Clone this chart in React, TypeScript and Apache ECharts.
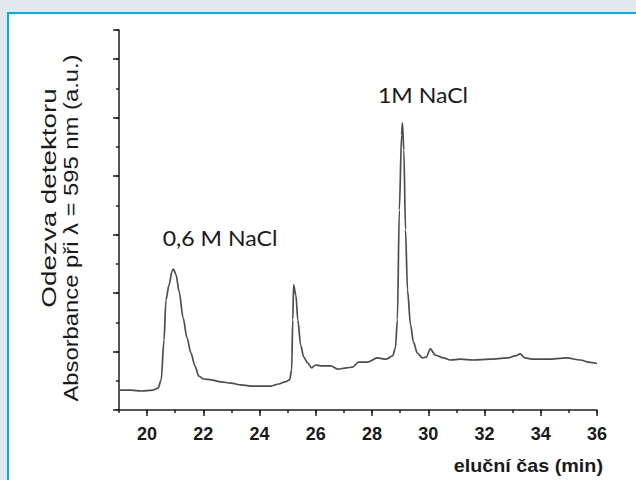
import React, { useEffect, useRef } from "react";
import * as echarts from "echarts";

// elution time (min)
const times: number[] = [
  19.0, 19.43, 19.79, 20.21, 20.39, 20.5, 20.6, 20.67, 20.78, 20.89, 20.94, 21.03, 21.14, 21.28, 21.42, 21.56,
  21.7, 21.84, 22.02, 22.27, 22.63, 22.98, 23.33, 23.69, 24.04, 24.4, 24.68, 24.9, 25.07, 25.14, 25.18, 25.21,
  25.29, 25.36, 25.46, 25.57, 25.71, 25.85, 25.99, 26.17, 26.53, 26.78, 27.09, 27.31, 27.52, 27.84, 28.19, 28.51,
  28.73, 28.83, 28.9, 28.97, 29.05, 29.08, 29.13, 29.19, 29.26, 29.37, 29.47, 29.61, 29.79, 29.93, 30.07, 30.25,
  30.54, 30.78, 31.14, 31.6, 32.2, 32.81, 33.09, 33.27, 33.44, 33.73, 34.23, 34.93, 35.4, 35.75, 36.0,
];
// detector response (a.u.)
const absorbance: number[] = [
  0.68, 0.68, 0.65, 0.68, 0.75, 1.03, 2.39, 3.76, 4.28, 4.76, 4.82, 4.62, 4.04, 3.15, 2.46, 1.95,
  1.51, 1.16, 1.06, 1.03, 0.96, 0.92, 0.86, 0.82, 0.82, 0.82, 0.89, 0.96, 1.03, 1.37, 3.08, 4.28,
  3.93, 3.08, 2.22, 1.81, 1.61, 1.44, 1.54, 1.51, 1.51, 1.4, 1.44, 1.47, 1.64, 1.64, 1.78, 1.74,
  1.85, 2.12, 3.08, 6.84, 9.41, 9.82, 8.89, 6.16, 4.11, 2.91, 2.33, 1.95, 1.78, 1.81, 2.09, 1.88,
  1.78, 1.71, 1.74, 1.71, 1.74, 1.78, 1.85, 1.92, 1.78, 1.74, 1.74, 1.78, 1.71, 1.63, 1.59,
];
const xTickLabels: number[] = [20, 22, 24, 26, 28, 30, 32, 34, 36];
const peakLabels: string[] = ["0,6 M NaCl", "1M NaCl"];
const xAxisTitle = "eluční čas (min)";
const yAxisTitle: string[] = ["Odezva detektoru", "Absorbance při λ = 595 nm (a.u.)"];

export default function App() {
  const ref = useRef<HTMLDivElement>(null);
  useEffect(() => {
    if (!ref.current) return;
    const chart = echarts.init(ref.current, undefined, { renderer: "svg" });
    const data = times.map((t, i) => [t, absorbance[i]]);
    const axisColor = "#1e1e1e";
    const baseAxis = {
      min: 19,
      max: 36,
      type: "value" as const,
    };
    chart.setOption({
      animation: false,
      backgroundColor: "#dfe9ef",
      grid: { left: 119, right: 39, top: 30, bottom: 70 },
      xAxis: [
        {
          ...baseAxis,
          interval: 1,
          axisLine: { show: true, lineStyle: { color: axisColor, width: 1.5 } },
          axisTick: { show: true, length: 3, lineStyle: { color: axisColor, width: 1.5 } },
          axisLabel: { show: false },
          splitLine: { show: false },
        },
        {
          ...baseAxis,
          interval: 1,
          position: "bottom",
          axisLine: { show: false },
          axisTick: { show: true, length: 6, customValues: xTickLabels, lineStyle: { color: axisColor, width: 1.5 } },
          axisLabel: {
            show: true,
            customValues: xTickLabels,
            fontSize: 18,
            fontWeight: "bold",
            fontFamily: "Liberation Sans",
            color: "#1a1a1a",
            margin: 15,
          },
          splitLine: { show: false },
        },
      ],
      yAxis: [
        {
          type: "value",
          min: 0,
          max: 13,
          interval: 1,
          axisLine: { show: true, lineStyle: { color: axisColor, width: 1.5 } },
          axisTick: { show: true, length: 3, lineStyle: { color: axisColor, width: 1.5 } },
          axisLabel: { show: false },
          splitLine: { show: false },
        },
        {
          type: "value",
          min: 0,
          max: 13,
          interval: 2,
          position: "left",
          axisLine: { show: false },
          axisTick: { show: true, length: 6, lineStyle: { color: axisColor, width: 1.5 } },
          axisLabel: { show: false },
          splitLine: { show: false },
        },
      ],
      series: [
        {
          type: "line",
          data,
          showSymbol: false,
          smooth: 0.3,
          smoothMonotone: "x",
          lineStyle: { color: "#4d4d4d", width: 1.7 },
          z: 5,
        },
      ],
      graphic: [
        {
          type: "rect",
          z: -10,
          shape: { x: 8, y: 13, width: 700, height: 600 },
          style: { fill: "#ffffff", stroke: "#00aeef", lineWidth: 2 },
          silent: true,
        },
        {
          type: "text",
          x: 49,
          y: 198,
          rotation: Math.PI / 2,
          scaleX: 1.39,
          style: {
            text: yAxisTitle[0],
            fontSize: 20,
            fontFamily: "Liberation Sans",
            fill: "#1a1a1a",
            align: "center",
            verticalAlign: "middle",
          },
        },
        {
          type: "text",
          x: 71,
          y: 228,
          rotation: Math.PI / 2,
          scaleX: 1.19,
          style: {
            text: yAxisTitle[1],
            fontSize: 20,
            fontFamily: "Liberation Sans",
            fill: "#1a1a1a",
            align: "center",
            verticalAlign: "middle",
          },
        },
        {
          type: "text",
          x: 603,
          y: 465,
          scaleX: 1.04,
          style: {
            text: xAxisTitle,
            fontSize: 19,
            fontWeight: "bold",
            fontFamily: "Liberation Sans",
            fill: "#1a1a1a",
            align: "right",
            verticalAlign: "middle",
          },
        },
        {
          type: "text",
          x: 220,
          y: 238,
          scaleX: 1.1,
          style: {
            text: peakLabels[0],
            fontSize: 21,
            fontFamily: "Lato",
            fill: "#1a1a1a",
            align: "center",
            verticalAlign: "middle",
          },
        },
        {
          type: "text",
          x: 423,
          y: 95,
          scaleX: 1.1,
          style: {
            text: peakLabels[1],
            fontSize: 21,
            fontFamily: "Lato",
            fill: "#1a1a1a",
            align: "center",
            verticalAlign: "middle",
          },
        },
      ],
    });
    return () => chart.dispose();
  }, []);
  return (
    <div
      ref={ref}
      style={{ position: "absolute", left: 0, top: 0, width: 636, height: 480 }}
    />
  );
}
